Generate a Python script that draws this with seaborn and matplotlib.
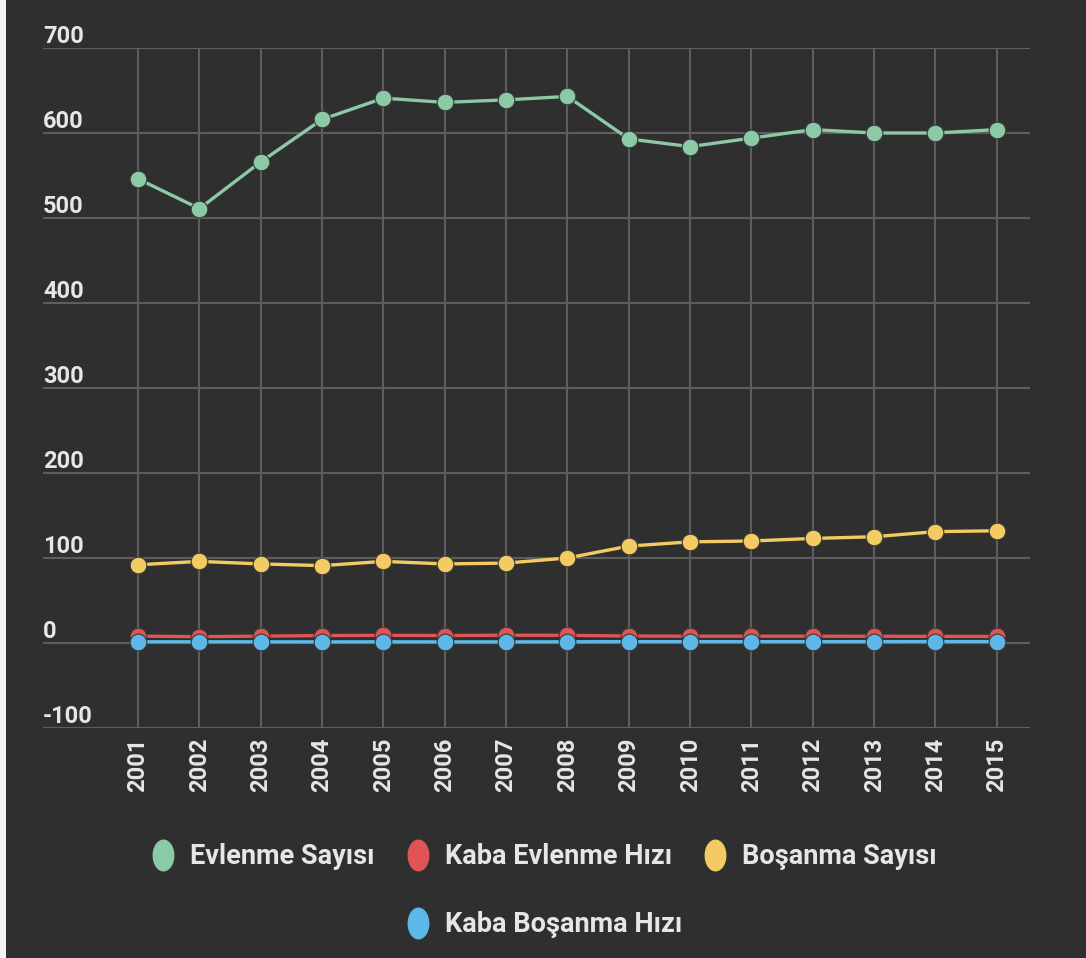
import matplotlib
matplotlib.use("Agg")
import matplotlib.pyplot as plt
from matplotlib.lines import Line2D
from matplotlib.patches import Rectangle
from matplotlib.path import Path
import pandas as pd
import seaborn as sns

# Veriler (bin kişi / binde oran)
yillar = [2001, 2002, 2003, 2004, 2005, 2006, 2007, 2008,
          2009, 2010, 2011, 2012, 2013, 2014, 2015]
evlenme_sayisi = [546, 511, 566, 616, 641, 636, 639, 643,
                  593, 584, 594, 604, 600, 600, 604]
kaba_evlenme_hizi = [8.1, 7.4, 8.1, 8.7, 9.0, 8.8, 9.1, 9.0,
                     8.2, 8.0, 8.0, 8.0, 7.9, 7.8, 7.7]
bosanma_sayisi = [92, 96, 93, 91, 96, 93, 94, 100,
                  114, 119, 120, 123, 125, 131, 132]
kaba_bosanma_hizi = [1.4, 1.4, 1.4, 1.3, 1.4, 1.3, 1.3, 1.4,
                     1.6, 1.6, 1.6, 1.6, 1.6, 1.7, 1.7]

seriler = ["Evlenme Sayısı", "Kaba Evlenme Hızı", "Boşanma Sayısı", "Kaba Boşanma Hızı"]
renkler = ["#8cc9a5", "#e05455", "#f2cb62", "#5db8e8"]
y_ticks = [-100, 0, 100, 200, 300, 400, 500, 600, 700]

df = pd.DataFrame({
    "Yıl": yillar,
    seriler[0]: evlenme_sayisi,
    seriler[1]: kaba_evlenme_hizi,
    seriler[2]: bosanma_sayisi,
    seriler[3]: kaba_bosanma_hizi,
})
df_long = df.melt(id_vars="Yıl", var_name="Seri", value_name="Değer")

bg = "#2f2f2f"
grid_c = "#5e5e5e"
text_c = "#e6e6e6"

sns.set_style("dark")
plt.rcParams["font.family"] = ["Roboto", "DejaVu Sans"]

fig = plt.figure(figsize=(10.86, 9.58), dpi=100, facecolor=bg)
ax = fig.add_axes([0.0396, 0.2401, 0.9088, 0.7098])
ax.set_facecolor(bg)

sns.lineplot(
    data=df_long, x="Yıl", y="Değer", hue="Seri",
    hue_order=seriler, palette=renkler,
    marker="o", markersize=12, markeredgecolor="#3a3a3a", markeredgewidth=0.8,
    linewidth=2.4, legend=False, ax=ax, zorder=3,
)

ax.set_xlim(1999.45, 2015.54)
ax.set_ylim(-100, 700)
ax.set_xticks(yillar)
ax.set_xticklabels([str(y) for y in yillar], rotation=90, fontsize=17,
                   fontweight="bold", color=text_c)
ax.set_yticks(y_ticks)
ax.set_yticklabels([])
ax.tick_params(axis="both", length=0)
ax.tick_params(axis="x", pad=7)
ax.set_xlabel("")
ax.set_ylabel("")

for s in ax.spines.values():
    s.set_visible(False)

ax.grid(True, color=grid_c, linewidth=1.5, zorder=0)
ax.set_axisbelow(True)

# y etiketleri çizgilerin üstünde, solda
for t in y_ticks:
    ax.text(0.0, t, str(t), transform=ax.get_yaxis_transform(),
            ha="left", va="bottom", fontsize=17, fontweight="bold",
            color=text_c)

# legend işaretleri dikey elips
elips = Path.unit_circle().transformed(
    matplotlib.transforms.Affine2D().scale(0.67, 1.0))
handles = [Line2D([], [], linestyle="none", marker=elips, markersize=22,
                  markerfacecolor=c, markeredgecolor=c) for c in renkler]
leg_font = {"size": 19.5, "weight": "bold"}
fig.legend(handles[:3], seriler[:3], loc="center", ncol=3,
           bbox_to_anchor=(0.5, 1 - 857 / 958), frameon=False,
           prop=leg_font, labelcolor=text_c,
           columnspacing=1.1, handletextpad=0.5, handlelength=1.0)
fig.legend(handles[3:], seriler[3:], loc="center", ncol=1,
           bbox_to_anchor=(0.5, 1 - 925 / 958), frameon=False,
           prop=leg_font, labelcolor=text_c,
           handletextpad=0.5, handlelength=1.0)

# sol kenardaki açık şerit
fig.patches.append(Rectangle((0, 0), 6 / 1086, 1, transform=fig.transFigure,
                             facecolor="#f2f2f2", edgecolor="none"))

fig.savefig("out.png", dpi=100, facecolor=bg)
plt.close()
